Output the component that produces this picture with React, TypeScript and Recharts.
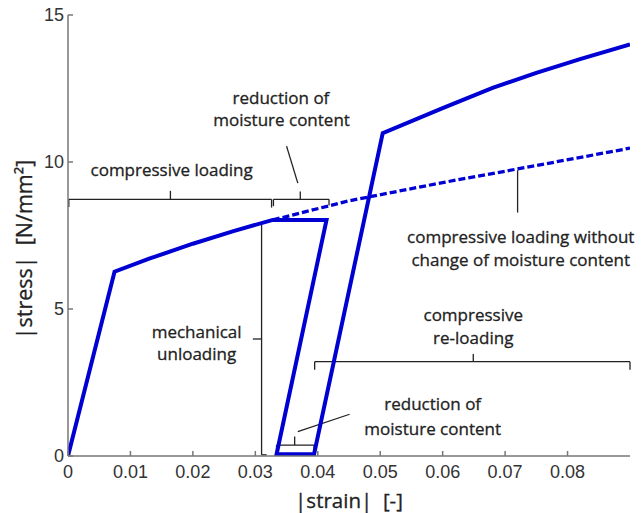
import { LineChart, Line, XAxis, YAxis, ReferenceLine, ReferenceDot } from "recharts";

// main stress-strain path (solid): loading, drying, unloading, drying, re-loading
const mainStrain = [0, 0.00745, 0.013, 0.02, 0.0265, 0.0328, 0.0414, 0.0334, 0.0394, 0.0504, 0.06, 0.068, 0.075, 0.082, 0.09];
const mainStress = [0, 6.27, 6.71, 7.22, 7.65, 8.03, 8.03, 0.06, 0.06, 10.98, 11.83, 12.52, 13.03, 13.5, 14.0];

// loading without change of moisture content (dashed)
const dashStrain = [0.0328, 0.045, 0.06, 0.075, 0.09];
const dashStress = [8.03, 8.68, 9.3, 9.88, 10.47];

const xTicks = [0, 0.01, 0.02, 0.03, 0.04, 0.05, 0.06, 0.07, 0.08];
const yTicks = [0, 5, 10, 15];

// brackets and leader lines, in data units: [x1, y1, x2, y2]
const bracketSegments = [
  // compressive loading
  [0.00013, 8.73, 0.0326, 8.73],
  [0.00013, 8.73, 0.00013, 8.47],
  [0.0326, 8.73, 0.0326, 8.45],
  [0.0164, 8.73, 0.0164, 9.02],
  // reduction of moisture content (top)
  [0.0329, 8.73, 0.0418, 8.73],
  [0.0329, 8.73, 0.0329, 8.5],
  [0.0418, 8.73, 0.0418, 8.52],
  [0.0372, 8.73, 0.0372, 9.0],
  [0.0368, 9.28, 0.035, 10.54],
  // leader from the dashed curve
  [0.072, 9.72, 0.072, 8.28],
  // mechanical unloading
  [0.031, 7.86, 0.031, 0.04],
  [0.031, 0.04, 0.0318, 0.04],
  [0.031, 3.98, 0.0296, 3.98],
  // compressive re-loading
  [0.0395, 3.21, 0.09, 3.21],
  [0.0395, 3.21, 0.0395, 2.93],
  [0.09, 3.21, 0.09, 2.93],
  [0.0649, 3.21, 0.0649, 3.47],
  // reduction of moisture content (bottom)
  [0.0334, 0.37, 0.0394, 0.37],
  [0.0334, 0.37, 0.0334, 0.2],
  [0.0394, 0.37, 0.0394, 0.2],
  [0.0363, 0.37, 0.0363, 0.66],
  [0.0368, 0.83, 0.0451, 1.42],
];

// annotation text lines: [text, x, y]
const noteTexts: [string, number, number][] = [
  ["compressive loading", 0.0166, 9.73],
  ["reduction of", 0.0341, 12.21],
  ["moisture content", 0.0342, 11.46],
  ["compressive loading without", 0.0725, 7.46],
  ["change of moisture content", 0.0725, 6.67],
  ["compressive", 0.0649, 4.8],
  ["re-loading", 0.0649, 4.04],
  ["mechanical", 0.0206, 4.25],
  ["unloading", 0.0206, 3.49],
  ["reduction of", 0.0584, 1.8],
  ["moisture content", 0.0584, 0.94],
];

const mainData = mainStrain.map((s, i) => ({ strain: s, stress: mainStress[i] }));
const dashData = dashStrain.map((s, i) => ({ strain: s, stress: dashStress[i] }));

const BLUE = "#0000d2";
const INK = "#222";
const AXIS = "#777";
const NOTE_FONT = "'Open Sans', sans-serif";
const TICK_FONT = "'Liberation Sans', Arial, sans-serif";

function XTick(props: any) {
  const { x, y, payload } = props;
  const label = payload.value === 0 ? "0" : payload.value.toFixed(2);
  return (
    <g>
      <line x1={x} x2={x} y1={y} y2={y - 5} stroke={AXIS} strokeWidth={1.5} />
      <text x={x} y={y + 16} textAnchor="middle" dominantBaseline="central" fontSize={18} fontFamily={TICK_FONT} fill="#333">
        {label}
      </text>
    </g>
  );
}

function YTick(props: any) {
  const { x, y, payload } = props;
  return (
    <g>
      <line x1={x} x2={x + 5} y1={y} y2={y} stroke={AXIS} strokeWidth={1.5} />
      <text x={x - 4} y={y} textAnchor="end" dominantBaseline="central" fontSize={18} fontFamily={TICK_FONT} fill="#333">
        {payload.value}
      </text>
    </g>
  );
}

function NoteText(text: string) {
  return (props: any) => (
    <text
      x={props.cx}
      y={props.cy}
      textAnchor="middle"
      dominantBaseline="central"
      fontSize={17}
      fontFamily={NOTE_FONT}
      fill={INK}
      stroke={INK}
      strokeWidth={0.3}
    >
      {text}
    </text>
  );
}

function StressLabel(props: any) {
  const vb = props.viewBox;
  const cx = vb.x + 23;
  const cy = vb.y + vb.height / 2 + 14;
  return (
    <text
      transform={`translate(${cx}, ${cy}) rotate(-90)`}
      textAnchor="middle"
      dominantBaseline="central"
      fontSize={21.5}
      fontFamily={NOTE_FONT}
      fill={INK}
      stroke={INK}
      strokeWidth={0.3}
    >
      {"|stress|\u00a0\u00a0[N/mm²]"}
    </text>
  );
}

export default function App() {
  return (
    <div style={{ width: 641, height: 513, background: "#fff" }}>
      <style>{"body{margin:0}"}</style>
      <LineChart width={641} height={513} margin={{ top: 15, right: 11, bottom: 0, left: 0 }}>
        <XAxis
          type="number"
          dataKey="strain"
          domain={[0, 0.09]}
          ticks={xTicks}
          allowDataOverflow
          height={57}
          tickSize={0}
          tickMargin={0}
          tick={<XTick />}
          axisLine={{ stroke: AXIS, strokeWidth: 1.5 }}
          label={{ value: "|strain|\u00a0\u00a0[-]", position: "insideBottom", offset: 5, fontSize: 20.5, fontFamily: NOTE_FONT, fill: INK, stroke: INK, strokeWidth: 0.3 }}
        />
        <YAxis
          type="number"
          dataKey="stress"
          domain={[0, 15]}
          ticks={yTicks}
          allowDataOverflow
          width={68}
          tickSize={0}
          tickMargin={0}
          tick={<YTick />}
          axisLine={{ stroke: AXIS, strokeWidth: 1.5 }}
          label={StressLabel}
        />
        {bracketSegments.map((s, i) => (
          <ReferenceLine
            key={"b" + i}
            segment={[{ x: s[0], y: s[1] }, { x: s[2], y: s[3] }]}
            stroke={INK}
            strokeWidth={1.3}
            ifOverflow="visible"
          />
        ))}
        <Line
          data={dashData}
          dataKey="stress"
          type="linear"
          stroke={BLUE}
          strokeWidth={3.3}
          strokeDasharray="7 3"
          dot={false}
          activeDot={false}
          isAnimationActive={false}
        />
        <Line
          data={mainData}
          dataKey="stress"
          type="linear"
          stroke={BLUE}
          strokeWidth={4}
          strokeLinejoin="miter"
          dot={false}
          activeDot={false}
          isAnimationActive={false}
        />
        {noteTexts.map(([t, x, y], i) => (
          <ReferenceDot key={"t" + i} x={x} y={y} r={0} shape={NoteText(t)} ifOverflow="visible" />
        ))}
      </LineChart>
    </div>
  );
}
